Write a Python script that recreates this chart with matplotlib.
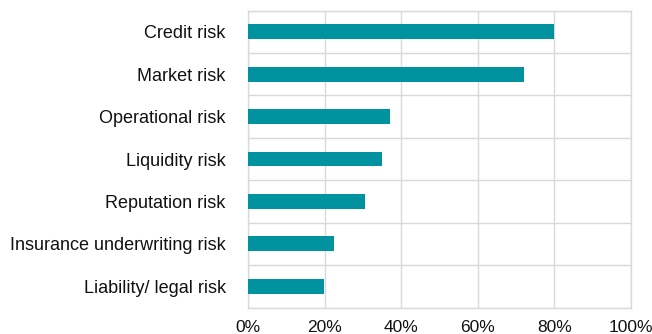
import matplotlib
matplotlib.use("Agg")
import matplotlib.pyplot as plt
from matplotlib.ticker import FixedLocator, PercentFormatter

categories = ["Credit risk", "Market risk", "Operational risk", "Liquidity risk",
              "Reputation risk", "Insurance underwriting risk", "Liability/ legal risk"]
values = [80, 72, 37, 35, 30.5, 22.5, 19.8]
x_ticks = [0, 20, 40, 60, 80, 100]

plt.rcParams['font.family'] = ['Liberation Sans', 'DejaVu Sans']

fig = plt.figure(figsize=(6.52, 3.34), dpi=100)
ax = fig.add_axes([248 / 652, 1 - 307.5 / 334, (631 - 248) / 652, (307.5 - 10.5) / 334])

n = len(categories)
pos = list(range(n))[::-1]
ax.barh(pos, values, height=0.35, color="#00929F", zorder=3)

ax.set_xlim(0, 100)
ax.set_ylim(-0.5, n - 0.5)
ax.set_xticks(x_ticks)
ax.xaxis.set_major_formatter(PercentFormatter(decimals=0))
ax.set_yticks(pos)
ax.set_yticklabels(categories)
ax.yaxis.set_minor_locator(FixedLocator([p + 0.5 for p in range(-1, n)]))

grid_c = "#d9d9d9"
ax.grid(axis="x", which="major", color=grid_c, linewidth=1, zorder=0)
ax.grid(axis="y", which="minor", color=grid_c, linewidth=1, zorder=0)
for s in ax.spines.values():
    s.set_color(grid_c)
    s.set_linewidth(1)

ax.tick_params(axis="both", which="both", length=0, colors="#111111")
ax.tick_params(axis="y", pad=16, labelsize=13)
ax.tick_params(axis="x", pad=9, labelsize=12.5)

fig.savefig("out.png", dpi=100)
